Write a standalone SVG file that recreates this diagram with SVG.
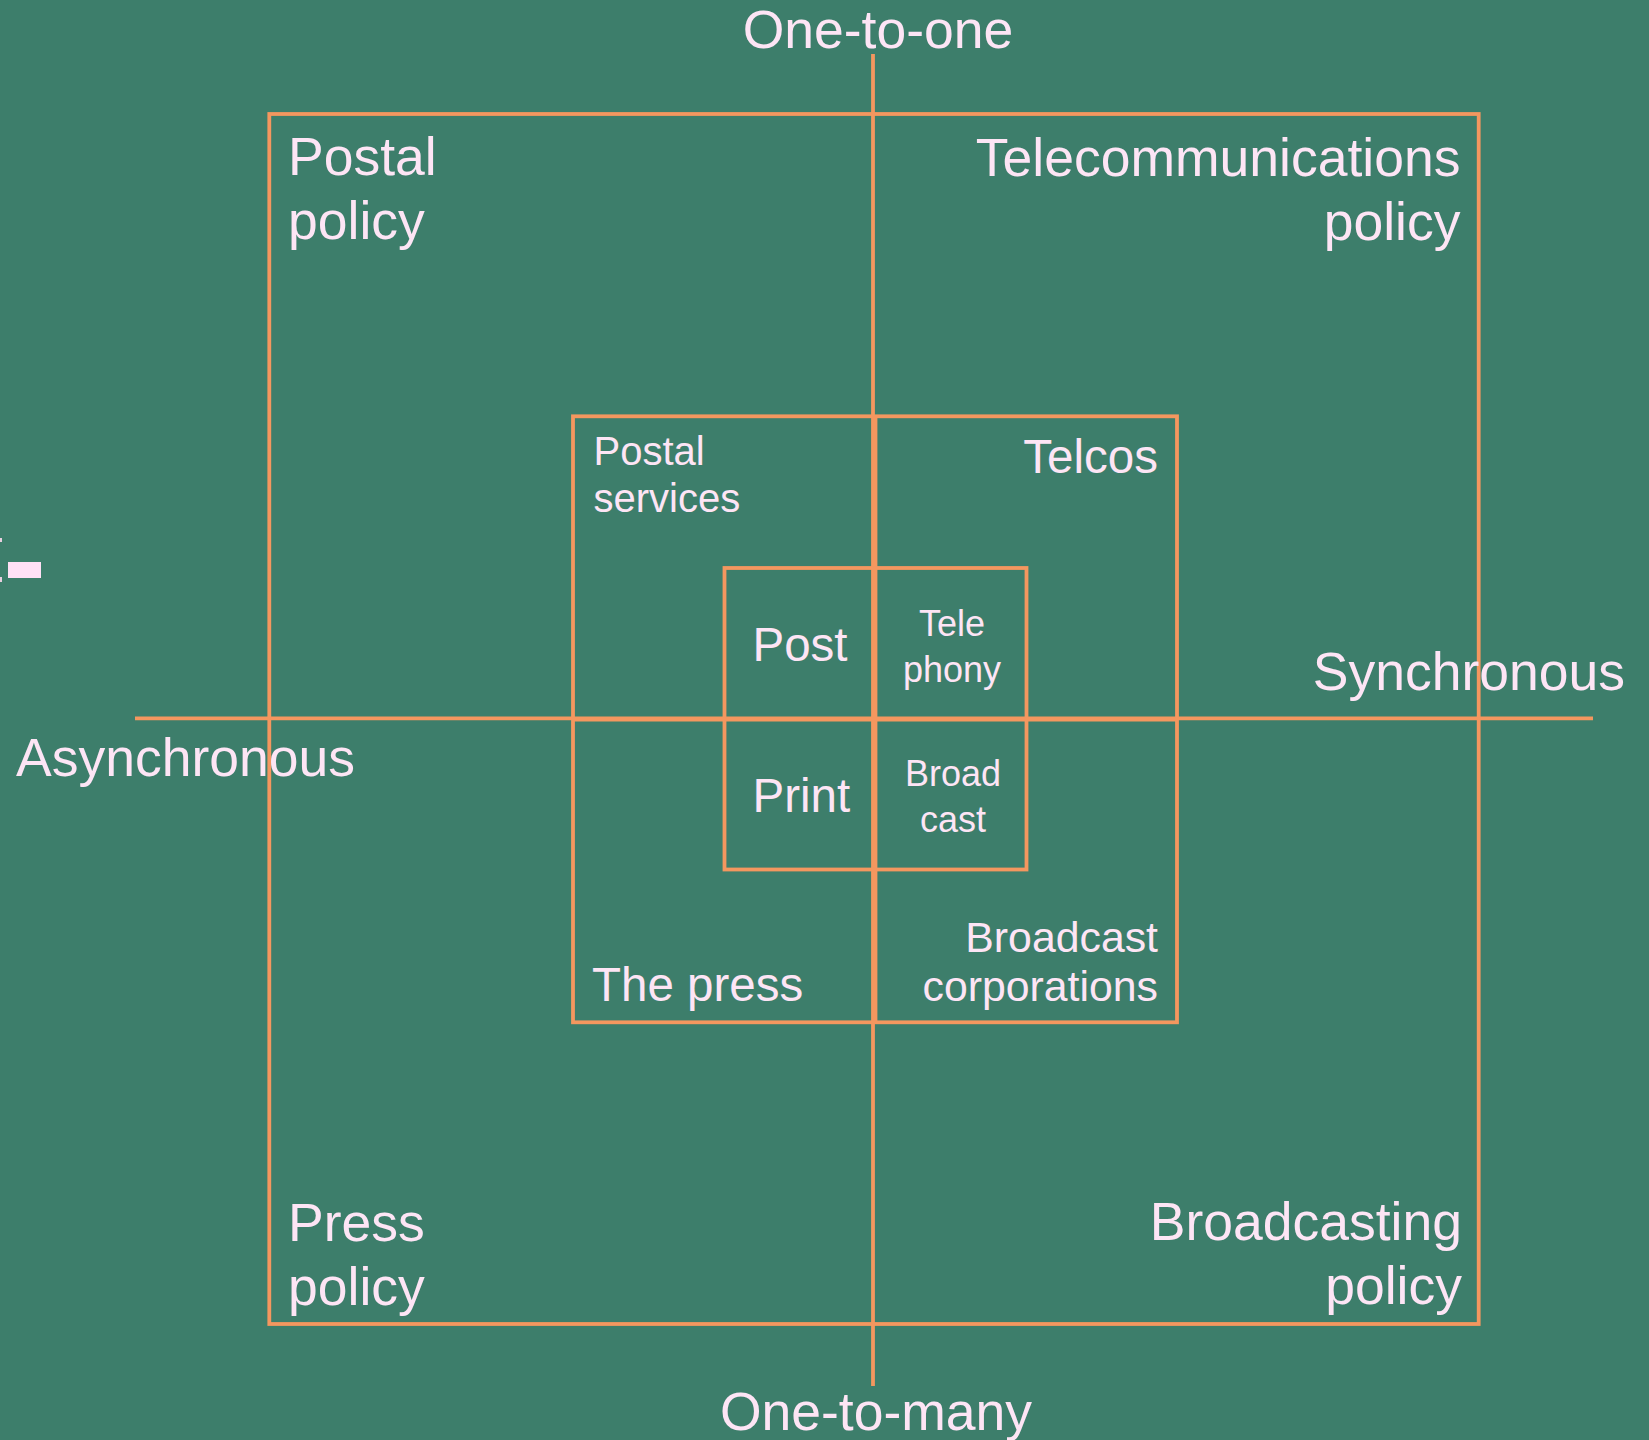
<svg xmlns="http://www.w3.org/2000/svg" width="1649" height="1440" viewBox="0 0 1649 1440">
<style>
.ln{stroke:#f4975f;stroke-width:3.8;fill:none}
.bx{stroke:#f4975f;stroke-width:3.8;fill:none}
text{font-family:"Liberation Sans",Arial,sans-serif;fill:#fde5f5}
.xl{font-size:53.5px}
.l{font-size:47.5px}
.m{font-size:42.8px}
.s{font-size:40px}
.xs{font-size:36px}
</style>
<rect x="0" y="0" width="1649" height="1440" fill="#3d7e6b"/>
<rect x="8" y="562" width="33" height="16" fill="#ffe0f5"/>
<rect x="0" y="538" width="2" height="4" fill="#e8d0e0"/>
<rect x="0" y="577" width="2" height="5" fill="#e8d0e0"/>
<g id="connectors">
<line class="ln" x1="873" y1="54" x2="873" y2="1386"/>
<line class="ln" x1="135" y1="718.3" x2="1593" y2="718.3"/>
<line class="ln" x1="875.5" y1="416" x2="875.5" y2="1022"/>
<line class="ln" x1="573" y1="719.5" x2="1177" y2="719.5"/>
</g>
<g id="policy">
<rect class="bx" x="269.3" y="114" width="1209.4" height="1210"/>
<text class="xl" x="288" y="175">Postal</text>
<text class="xl" x="288" y="238.5">policy</text>
<text class="xl" x="1460.5" y="176" text-anchor="end">Telecommunications</text>
<text class="xl" x="1460.5" y="240" text-anchor="end">policy</text>
<text class="xl" x="288" y="1240.5">Press</text>
<text class="xl" x="288" y="1304.5">policy</text>
<text class="xl" x="1462" y="1240" text-anchor="end">Broadcasting</text>
<text class="xl" x="1462" y="1304" text-anchor="end">policy</text>
</g>
<g id="industry">
<rect class="bx" x="573" y="416.3" width="604" height="606"/>
<text class="s" x="593.5" y="464.5">Postal</text>
<text class="s" x="593.5" y="512">services</text>
<text class="l" x="1158" y="472.7" text-anchor="end">Telcos</text>
<text class="l" x="592" y="1000.8">The press</text>
<text class="m" x="1158" y="951.8" text-anchor="end">Broadcast</text>
<text class="m" x="1158" y="1000.8" text-anchor="end">corporations</text>
</g>
<g id="media">
<rect class="bx" x="724.5" y="568" width="302" height="301.5"/>
<text class="l" x="752.5" y="661">Post</text>
<text class="l" x="752.5" y="812">Print</text>
<text class="xs" x="952" y="636" text-anchor="middle">Tele</text>
<text class="xs" x="952" y="681.6" text-anchor="middle">phony</text>
<text class="xs" x="953" y="785.7" text-anchor="middle">Broad</text>
<text class="xs" x="953" y="831.8" text-anchor="middle">cast</text>
</g>
<g id="axes-labels">
<text class="xl" x="878" y="48" text-anchor="middle">One-to-one</text>
<text class="xl" x="876" y="1430" text-anchor="middle">One-to-many</text>
<text class="xl" x="16" y="776">Asynchronous</text>
<text class="xl" x="1625" y="690" text-anchor="end">Synchronous</text>
</g>
</svg>
